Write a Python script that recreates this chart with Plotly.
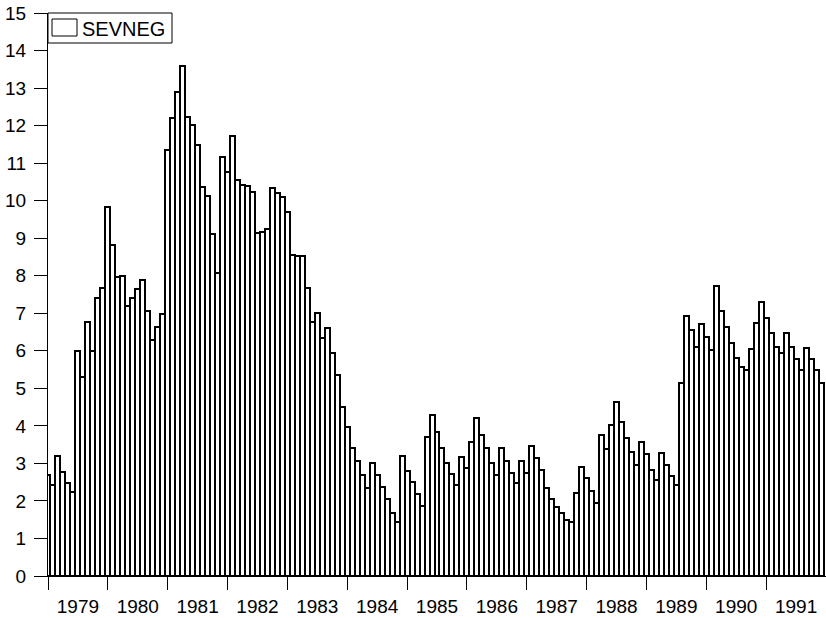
import plotly.graph_objects as go

years = ["1979", "1980", "1981", "1982", "1983", "1984", "1985",
         "1986", "1987", "1988", "1989", "1990", "1991"]

sevneg_1979 = [2.69, 2.42, 3.20, 2.78, 2.49, 2.25, 6.00, 5.30, 6.78, 6.00, 7.40, 7.67]
sevneg_1980 = [9.83, 8.82, 7.97, 7.99, 7.19, 7.40, 7.65, 7.89, 7.07, 6.29, 6.64, 6.98]
sevneg_1981 = [11.35, 12.20, 12.90, 13.59, 12.22, 12.02, 11.47, 10.36, 10.13, 9.11, 8.07, 11.17]
sevneg_1982 = [10.77, 11.72, 10.55, 10.42, 10.40, 10.24, 9.15, 9.17, 9.25, 10.33, 10.20, 10.10]
sevneg_1983 = [9.69, 8.55, 8.53, 8.53, 7.67, 6.78, 7.02, 6.34, 6.60, 5.94, 5.36, 4.50]
sevneg_1984 = [3.96, 3.40, 3.07, 2.69, 2.34, 3.00, 2.69, 2.36, 2.04, 1.67, 1.43, 3.20]
sevneg_1985 = [2.81, 2.51, 2.18, 1.87, 3.70, 4.29, 3.83, 3.40, 3.02, 2.71, 2.42, 3.17]
sevneg_1986 = [2.87, 3.58, 4.20, 3.76, 3.42, 3.00, 2.69, 3.40, 3.07, 2.75, 2.49, 3.07]
sevneg_1987 = [2.75, 3.47, 3.14, 2.82, 2.35, 2.04, 1.84, 1.67, 1.49, 1.45, 2.20, 2.90]
sevneg_1988 = [2.60, 2.27, 1.95, 3.76, 3.38, 4.02, 4.64, 4.11, 3.67, 3.31, 2.96, 3.58]
sevneg_1989 = [3.25, 2.82, 2.56, 3.27, 2.96, 2.66, 2.42, 5.15, 6.94, 6.55, 6.11, 6.71]
sevneg_1990 = [6.36, 6.02, 7.73, 7.07, 6.64, 6.20, 5.80, 5.58, 5.49, 6.04, 6.73, 7.31]
sevneg_1991 = [6.87, 6.47, 6.11, 5.93, 6.47, 6.10, 5.77, 5.49, 6.08, 5.79, 5.49, 5.15]

sevneg = (sevneg_1979 + sevneg_1980 + sevneg_1981 + sevneg_1982 + sevneg_1983 +
          sevneg_1984 + sevneg_1985 + sevneg_1986 + sevneg_1987 + sevneg_1988 +
          sevneg_1989 + sevneg_1990 + sevneg_1991)
months = list(range(len(sevneg)))
year_mid = [12 * k + 6 for k in range(len(years))]
legend_label = "SEVNEG"

FONT = "Arial, Liberation Sans, sans-serif"

W, H = 826, 618
ML, MR, MT, MB = 48, 0, 13, 42
PW, PH = W - ML - MR, H - MT - MB

fig = go.Figure()
fig.add_trace(go.Bar(
    x=months, y=sevneg, name=legend_label, showlegend=False,
    marker=dict(color="white", line=dict(color="black", width=2)),
))

def px_x(p):
    return p / PW

def px_y(p):
    return 1 - p / PH

# legend box (top-left, against the y axis)
fig.add_shape(type="rect", xref="paper", yref="paper",
              x0=px_x(0), x1=px_x(124), y0=px_y(30), y1=px_y(0),
              line=dict(color="black", width=1), fillcolor="white", layer="above")
fig.add_shape(type="rect", xref="paper", yref="paper",
              x0=px_x(4), x1=px_x(29), y0=px_y(23), y1=px_y(6),
              line=dict(color="black", width=1), fillcolor="white", layer="above")
fig.add_annotation(xref="paper", yref="paper", x=px_x(32), y=px_y(15.5),
                   xanchor="left", yanchor="middle", showarrow=False,
                   text=legend_label, font=dict(family=FONT, size=20, color="black"))

fig.update_layout(
    width=W, height=H,
    margin=dict(l=ML, r=MR, t=MT, b=MB, autoexpand=False),
    paper_bgcolor="white", plot_bgcolor="white",
    bargap=0,
    font=dict(family=FONT, size=19, color="black"),
    showlegend=False,
)
fig.update_xaxes(
    range=[0, len(sevneg)],
    tickmode="array", tickvals=year_mid, ticktext=years,
    ticks="outside", ticklen=0, tickcolor="black",
    ticklabelstandoff=13,
    minor=dict(tickmode="linear", tick0=0, dtick=12, ticks="outside",
               ticklen=13, tickcolor="black", tickwidth=1, showgrid=False),
    showline=True, linecolor="black", linewidth=1,
    showgrid=False, zeroline=False, automargin=False,
    tickfont=dict(family=FONT, size=19, color="black"),
)
fig.update_yaxes(
    range=[0, 15], tickmode="linear", tick0=0, dtick=1,
    ticks="outside", ticklen=13, tickcolor="black", tickwidth=1,
    ticklabelstandoff=4,
    showline=True, linecolor="black", linewidth=1,
    showgrid=False, zeroline=False, automargin=False,
    tickfont=dict(family=FONT, size=19, color="black"),
)

fig.write_html(
    "out.html",
    config={"displayModeBar": False},
    post_script="document.body.style.margin='0';document.body.style.overflow='hidden';",
)
